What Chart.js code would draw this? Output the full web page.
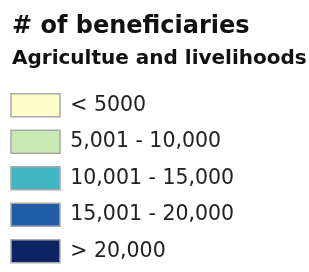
<!DOCTYPE html>
<html>
<head>
<meta charset="utf-8">
<script src="https://cdn.jsdelivr.net/npm/chart.js@4/dist/chart.umd.min.js"></script>
<style>
  html, body { margin: 0; padding: 0; background: #fff; }
  #wrap { position: relative; width: 309px; height: 272px; }
</style>
</head>
<body>
<div id="wrap"><canvas id="legendCanvas"></canvas></div>
<script>
// Textos e classes da legenda
const chartTitle = '# of beneficiaries';
const chartSubtitle = 'Agricultue and livelihoods';
const categories = ['< 5000', '5,001 - 10,000', '10,001 - 15,000', '15,001 - 20,000', '> 20,000'];

// Paleta (YlGnBu)
const palette = ['#ffffcc', '#c7e9b4', '#41b6c4', '#225ea8', '#0c2463'];

Chart.defaults.font.family = "'DejaVu Sans', sans-serif";
Chart.defaults.color = '#1a1a1a';

const ctx = document.getElementById('legendCanvas').getContext('2d');
const legendChart = new Chart(ctx, {
    type: 'bar',
    data: {
        labels: [],
        datasets: categories.map((c, i) => ({
            label: c,
            data: [],
            backgroundColor: palette[i],
            borderColor: '#a9a9a9',
            borderWidth: 1.5
        }))
    },
    options: {
        responsive: true,
        maintainAspectRatio: false,
        animation: false,
        layout: { padding: { left: -2.5, top: 0, right: 0, bottom: 0 } },
        scales: {
            x: { display: false },
            y: {
                display: true,
                grid: { display: false },
                border: { display: false },
                ticks: { display: false },
                afterFit: function(scale) { scale.width = 14.5; }
            }
        },
        plugins: {
            title: {
                display: true,
                text: chartTitle,
                align: 'start',
                fullSize: false,
                color: '#111',
                font: { size: 24, weight: 'bold' },
                padding: { top: 12, bottom: 1 }
            },
            subtitle: {
                display: true,
                text: chartSubtitle,
                align: 'start',
                fullSize: false,
                color: '#111',
                font: { size: 20, weight: 'bold' },
                padding: { top: 5, bottom: 9.5 }
            },
            legend: {
                position: 'top',
                align: 'start',
                maxHeight: 400,
                onClick: null,
                labels: {
                    boxWidth: 49,
                    boxHeight: 23,
                    padding: 13.5,
                    color: '#222',
                    font: { size: 20.5 }
                }
            },
            tooltip: { enabled: false }
        }
    }
});
</script>
</body>
</html>
